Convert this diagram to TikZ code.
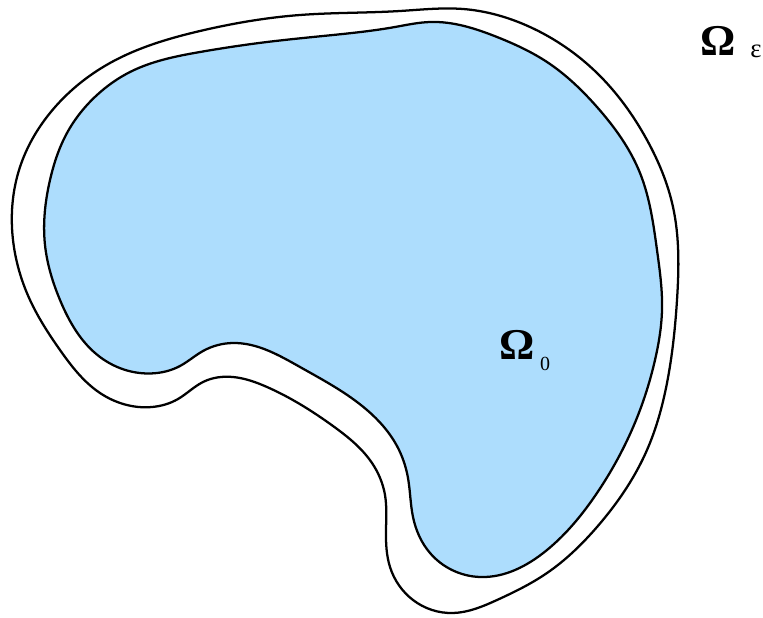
\documentclass[tikz,border=0pt]{standalone}
\usepackage{fontspec}
\setmainfont{Liberation Serif}
\usetikzlibrary{hobby}
\definecolor{innerblue}{RGB}{173,221,253}
\begin{document}
\begin{tikzpicture}[x=0.75pt,y=-0.75pt,
  contour/.style={draw=black,line width=1.7pt,line join=round},
  biglabel/.style={inner sep=0pt,font=\fontsize{33}{33}\selectfont\bfseries},
  sublabel/.style={inner sep=0pt,font=\fontsize{15}{15}\selectfont}]
\useasboundingbox (0,0) rectangle (763,617);
% outer boundary Omega_epsilon
\draw[contour,use Hobby shortcut,closed=true]
 (110,63) .. (200,31) .. (300,15) .. (400,11) .. (463,9) .. (530,27) .. (597,73)
 .. (647,140) .. (673,207) .. (677,300) .. (667,383) .. (647,450) .. (597,527)
 .. (547,573) .. (497,600) .. (453,613) .. (413,600) .. (390,567) .. (386,530)
 .. (385,495) .. (372,463) .. (333,426) .. (267,387) .. (233,377) .. (203,382)
 .. (178,399) .. (152,407) .. (100,393) .. (60,350) .. (30,300) .. (13,240)
 .. (20,167) .. (50,113);
% inner domain Omega_0
\draw[contour,fill=innerblue,use Hobby shortcut,closed=true]
 (130,72) .. (200,52) .. (267,42) .. (333,35) .. (395,27) .. (430,22) .. (497,37)
 .. (547,62) .. (597,107) .. (640,173) .. (657,250) .. (662,310) .. (655,360)
 .. (640,410) .. (597,493) .. (547,550) .. (480,577) .. (430,553) .. (413,517)
 .. (408,478) .. (397,446) .. (367,410) .. (300,367) .. (233,343) .. (203,351)
 .. (180,366) .. (157,373) .. (100,357) .. (60,300) .. (45,245) .. (50,180)
 .. (67,133) .. (97,95);
\node[biglabel] (omegaE) at (718,41) {Ω};
\node[sublabel,font=\fontsize{20}{20}\selectfont] (epsE) at (756,51) {ε};
\node[biglabel] (omega0) at (517,345) {Ω};
\node[sublabel] (zero0) at (545,364) {0};
\end{tikzpicture}
\end{document}
